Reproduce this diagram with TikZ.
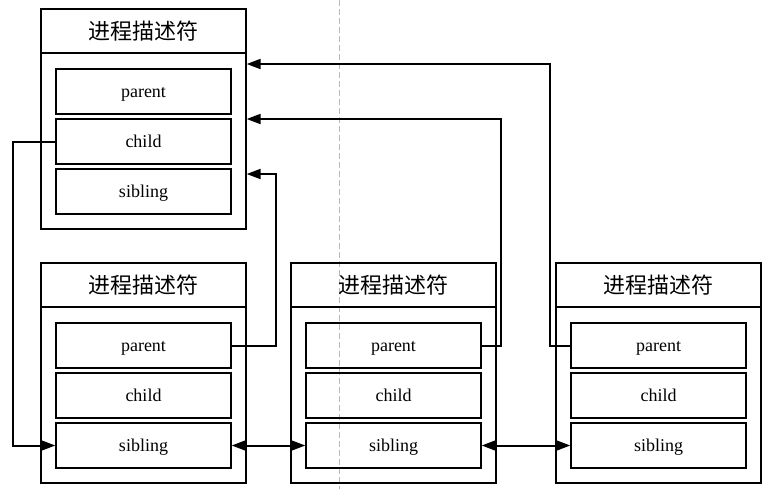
\documentclass[tikz,border=0pt]{standalone}
\usepackage{fontspec}
\setmainfont{Liberation Serif}
\newfontfamily\cjk{Noto Sans CJK SC}
\usetikzlibrary{arrows.meta,calc}

\begin{document}
\begin{tikzpicture}
        [x=0.5pt,y=-0.5pt,line width=0.65pt,
         proc/.style={draw,minimum width=102.5pt,minimum height=110pt,inner sep=0pt},
         head/.style={draw,minimum width=102.5pt,minimum height=22pt,inner sep=0pt,font=\cjk\fontsize{11}{13}\selectfont},
         field/.style={draw,minimum width=87.5pt,minimum height=22.5pt,inner sep=0pt,
                       text height=6pt,text depth=0pt,font=\fontsize{9}{10}\selectfont},
         arr/.style={line width=1pt,-{Triangle[length=7pt,width=5pt]}},
         darr/.style={line width=1pt,{Triangle[length=7pt,width=5pt]}-{Triangle[length=7pt,width=5pt]}}]
        \useasboundingbox (0,0) rectangle (770,489);
        \draw[gray!55,line width=0.5pt,dash pattern=on 3pt off 1.5pt] (339.5,0) -- (339.5,489);

        % parent process
        \node[proc] (tbox) at (143.5,119) {};
        \node[head] (thead) at (143.5,31) {进程描述符};
        \node[field] (tpar) at (143.5,91.5) {parent};
        \node[field] (tchi) at (143.5,141.5) {child};
        \node[field] (tsib) at (143.5,191.5) {sibling};

        % children
        \foreach \i/\x in {1/143.5,2/393.5,3/658.5}{
            \node[proc] (box\i) at (\x,373) {};
            \node[head] (head\i) at (\x,285) {进程描述符};
            \node[field] (par\i) at (\x,345.5) {parent};
            \node[field] (chi\i) at (\x,395.5) {child};
            \node[field] (sib\i) at (\x,445.5) {sibling};
        }

        \coordinate (in1) at ($(tbox.east)+(0,-55)$);
        \coordinate (in3) at ($(tbox.east)+(0,55)$);

        \draw[arr] (tchi.west) -- ++(-42,0) |- (sib1.west);
        \draw[arr] (par1.east) -- ++(44,0) |- (in3);
        \draw[arr] (par2.east) -- ++(19,0) |- (tbox.east);
        \draw[arr] (par3.west) -- ++(-20,0) |- (in1);

        \foreach \from/\to in {sib1/sib2, sib2/sib3}
            \draw[darr] (\from.east) -- (\to.west);

      \end{tikzpicture}
\end{document}
